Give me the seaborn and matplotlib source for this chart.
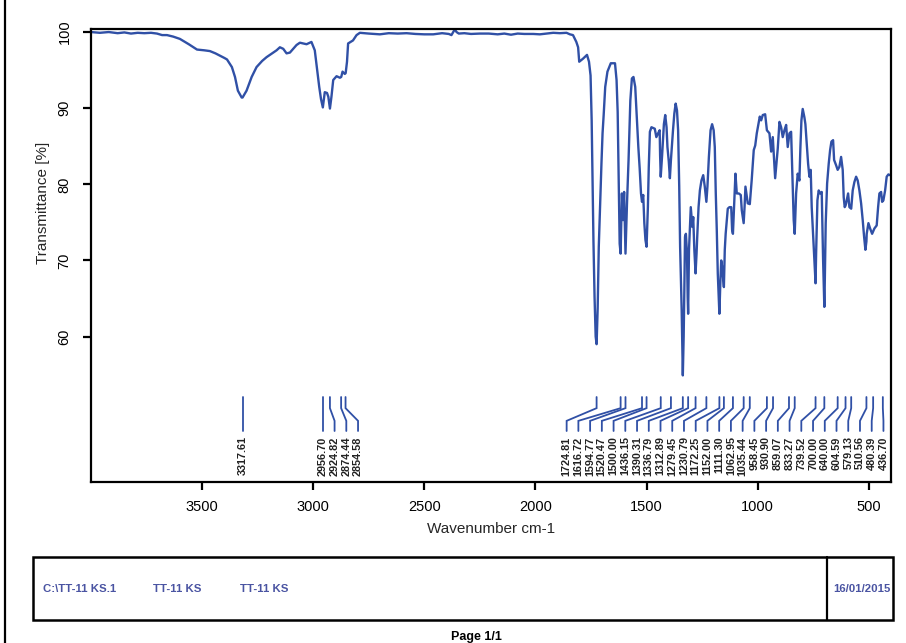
import numpy as np
import pandas as pd
import matplotlib
matplotlib.use("Agg")
import matplotlib.pyplot as plt
from matplotlib.lines import Line2D
from matplotlib.patches import Rectangle
import seaborn as sns

# ---------------- data: (wavenumber cm-1, transmittance %) ----------------
region_oh_ch = [
    (4000, 100.0), (3960, 99.9), (3920, 100.0), (3880, 99.85), (3850, 99.95),
    (3820, 99.8), (3790, 99.9), (3760, 99.85), (3730, 99.9), (3703, 99.8),
    (3680, 99.6), (3658, 99.6), (3630, 99.4), (3600, 99.1), (3560, 98.4),
    (3523, 97.7), (3490, 97.6), (3465, 97.5), (3440, 97.2), (3420, 96.9),
    (3400, 96.6), (3388, 96.4), (3366, 95.4), (3352, 94.1), (3339, 92.3),
    (3322, 91.4), (3318, 91.4), (3300, 92.3), (3277, 94.1), (3255, 95.4),
    (3230, 96.2), (3210, 96.7), (3185, 97.2), (3165, 97.6), (3150, 98.0),
    (3135, 97.8), (3120, 97.2), (3105, 97.3), (3090, 97.8), (3075, 98.3),
    (3060, 98.6), (3030, 98.4), (3008, 98.7), (2993, 97.6), (2982, 95.0),
    (2973, 92.8), (2965, 91.2), (2956.7, 90.1), (2948, 92.1), (2938, 92.0),
    (2932, 91.5), (2924.8, 89.95), (2918, 91.5), (2910, 93.7), (2895, 94.2),
    (2880, 94.0), (2874, 94.1), (2868, 94.8), (2858, 94.5), (2854, 94.6),
    (2848, 96.1), (2843, 98.5), (2821, 98.9), (2805, 99.6), (2790, 99.9),
]
region_flat = [
    (2750, 99.8), (2700, 99.7), (2660, 99.85), (2620, 99.8), (2580, 99.85),
    (2540, 99.75), (2500, 99.7), (2460, 99.7), (2420, 99.85), (2390, 99.75),
    (2378, 99.6), (2368, 100.1), (2363, 100.35), (2355, 100.0), (2345, 99.8),
    (2320, 99.85), (2290, 99.75), (2250, 99.8), (2210, 99.8), (2170, 99.7),
    (2140, 99.8), (2110, 99.65), (2080, 99.8), (2050, 99.75), (2010, 99.75),
    (1980, 99.7), (1950, 99.8), (1920, 99.9), (1890, 99.85), (1860, 99.9),
    (1845, 99.7),
]
region_carbonyl = [
    (1831, 99.6), (1816, 98.7), (1808, 98.0), (1803, 96.1), (1786, 96.5),
    (1768, 97.0), (1759, 96.1), (1752, 94.3), (1747, 88.4), (1743, 80.5),
    (1739, 72.6), (1734, 65.2), (1729, 60.0), (1724.8, 59.0), (1720, 63.7),
    (1715, 71.8), (1708, 78.3), (1703, 82.7), (1698, 86.7), (1693, 89.1),
    (1686, 92.8), (1676, 94.8), (1661, 95.9), (1642, 95.9), (1635, 93.7),
    (1630, 89.5), (1625, 79.7), (1621, 72.2), (1616.7, 70.9), (1611, 78.8),
    (1606, 75.3), (1601, 79.0), (1594.8, 70.9), (1588, 77.5), (1581, 83.2),
    (1573, 91.0), (1566, 93.9), (1559, 94.1), (1551, 92.8), (1543, 88.4),
    (1537, 84.9), (1531, 82.1), (1525, 78.8), (1520.5, 77.7), (1515, 78.6),
    (1510, 74.9), (1505, 72.7), (1500, 71.8), (1494, 77.0), (1490, 82.3),
    (1485, 86.9), (1478, 87.5), (1463, 87.3), (1456, 86.2), (1448, 86.7),
    (1441, 87.1), (1439, 83.8), (1436.2, 81.0), (1430, 83.8), (1422, 87.9),
    (1416, 89.1), (1410, 87.5), (1406, 84.9),
]
region_fingerprint_a = [
    (1400, 83.0), (1395, 80.8), (1390.3, 83.2), (1381, 87.1), (1375, 89.3),
    (1369, 90.6), (1363, 89.7), (1358, 87.1), (1353, 79.7), (1349, 71.8),
    (1342, 63.5), (1336.8, 54.9), (1333, 60.0), (1330, 66.0), (1327, 73.1),
    (1323, 73.5), (1318, 70.9), (1315, 65.2), (1312.9, 63.0), (1309, 71.4),
    (1301, 77.0), (1294, 74.4), (1290, 75.7), (1285, 71.4), (1279.5, 68.3),
    (1275, 70.9), (1272, 73.1), (1266, 77.0), (1260, 79.2), (1253, 80.5),
    (1245, 81.2), (1238, 79.7), (1230.8, 77.7), (1226, 79.7), (1219.5, 83.6),
    (1212, 87.1), (1205, 87.9), (1198, 87.1), (1193, 84.9), (1188.5, 78.8),
    (1184, 74.0), (1179.5, 68.3), (1172.3, 63.0), (1168, 67.0), (1164, 70.0),
    (1160, 69.2), (1152, 66.5), (1148, 71.4), (1144, 73.5), (1139, 75.3),
    (1134.5, 76.8), (1127, 77.0), (1119, 77.0), (1115, 74.0), (1111.3, 73.5),
]
region_fingerprint_b = [
    (1104.4, 78.3), (1100, 81.4), (1094, 78.8), (1085, 78.8), (1076, 78.6),
    (1071.5, 76.6), (1063, 74.9), (1059, 77.0), (1055, 79.7), (1050, 78.6),
    (1044.6, 77.5), (1035.4, 77.4), (1027, 80.5), (1022, 82.7), (1017.6, 84.5),
    (1011, 85.1), (1004, 86.7), (996.4, 87.9), (990.5, 88.9), (984.3, 88.4),
    (977, 89.1), (966.3, 89.2), (958.5, 87.1), (947, 86.7), (939.3, 84.3),
    (932, 86.2), (927.6, 84.0), (921.3, 80.8), (916.8, 82.3), (909.6, 84.7),
    (902, 88.2), (894.4, 87.5), (887.2, 86.2), (879.5, 87.1), (871.9, 87.8),
    (864.7, 84.9), (857, 86.7), (849.5, 86.9), (842.2, 79.9), (837.8, 75.3),
    (833.3, 73.5), (827, 78.8), (819.8, 81.4), (812.2, 80.5), (807.6, 84.9),
    (803.1, 88.4), (797.3, 89.9), (789.7, 88.8), (785.2, 87.9), (779.3, 85.4),
    (773, 82.7), (767.2, 81.0), (761.3, 81.9), (756.8, 77.0), (752.3, 74.4),
    (746, 70.9), (739.5, 67.0), (737, 70.9), (731.1, 77.9), (725.3, 79.2),
    (719, 78.8), (711.8, 79.0), (705.5, 70.0), (700, 63.9), (698.3, 66.5),
    (693.8, 74.9), (687.5, 80.1), (680.3, 82.7), (674, 84.5), (668.2, 85.6),
    (660.6, 85.8), (656, 83.2), (647, 82.5), (640, 81.9), (632.2, 82.3),
    (624.6, 83.6), (617.3, 81.9), (612.8, 78.3), (608.3, 77.0), (604.6, 77.2),
    (602, 77.5), (593, 78.8), (587.2, 77.0), (579.1, 76.8), (572.3, 79.2),
    (564.7, 80.3), (557, 81.0), (549.8, 80.5), (542.2, 79.2), (534.5, 77.5),
    (527.3, 75.3), (521, 73.1), (515.2, 71.4), (510.6, 72.5), (509.3, 73.5),
    (501.6, 74.9), (494, 74.2), (485, 73.5), (480.4, 73.8), (474.7, 74.2),
    (464.4, 74.6), (458, 77.0), (452.2, 78.8), (444.5, 79.0), (440, 77.7),
    (436.7, 77.8), (434.2, 77.9), (426.5, 79.2), (419.4, 81.0), (411.8, 81.3),
    (404, 81.2), (400, 81.2),
]
peak_positions = [
    3317.61, 2956.70, 2924.82, 2874.44, 2854.58,
    1724.81, 1616.72, 1594.77, 1520.47, 1500.00, 1436.15, 1390.31, 1336.79,
    1312.89, 1279.45, 1230.79, 1172.25, 1152.00, 1111.30, 1062.95, 1035.44,
    958.45, 930.90, 859.07, 833.27, 739.52, 700.00, 640.00, 604.59, 579.13,
    510.56, 480.39, 436.70,
]
x_ticks = [3500, 3000, 2500, 2000, 1500, 1000, 500]
y_ticks = [60, 70, 80, 90, 100]
footer_texts = ["C:\\TT-11 KS.1", "TT-11 KS", "TT-11 KS"]
footer_date = "16/01/2015"

spectrum = (region_oh_ch + region_flat + region_carbonyl
            + region_fingerprint_a + region_fingerprint_b)
df = pd.DataFrame(spectrum, columns=["wn", "T"])

# ---------------- style ----------------
W, H = 906, 643
sns.set_theme(style="white")
plt.rcParams["font.family"] = ["Liberation Sans", "DejaVu Sans"]
BLUE = "#3050a6"
TXT_BLUE = "#4a54a2"

fig = plt.figure(figsize=(W / 100, H / 100), dpi=100)
fig.patch.set_facecolor("white")


def fx(px):
    return px / W


def fy(py):
    return 1 - py / H


ax = fig.add_axes([fx(91), fy(482), fx(891) - fx(91), fy(29) - fy(482)])
ax.set_facecolor("white")

sns.lineplot(data=df, x="wn", y="T", ax=ax, color=BLUE, lw=1.7,
             sort=False, estimator=None)

ax.set_xlim(4000, 400)
ax.set_ylim(40.9, 100.4)
ax.set_xticks(x_ticks)
ax.set_yticks(y_ticks)
ax.set_xticklabels([str(v) for v in x_ticks], fontsize=10.5)
ax.set_yticklabels([str(v) for v in y_ticks], fontsize=10.5, rotation=90,
                   va="center")
for s in ax.spines.values():
    s.set_color("black")
    s.set_linewidth(1.6)
ax.tick_params(axis="both", direction="out", length=6, width=1.6,
               color="black", labelcolor="black", left=True, bottom=True)
ax.tick_params(axis="x", pad=7)
ax.tick_params(axis="y", pad=8)
ax.set_xlabel("Wavenumber cm-1", fontsize=11, labelpad=6)
ax.set_ylabel("Transmittance [%]", fontsize=11)
ax.yaxis.set_label_coords(-0.051, 0.616)

# ---------------- peak labels ----------------
spacing = 52.8
right_bound = 434.0
pos = list(peak_positions)
for i in range(1, len(pos)):
    pos[i] = min(pos[i], pos[i - 1] - spacing)
pos[-1] = max(pos[-1], right_bound)
for i in range(len(pos) - 2, -1, -1):
    pos[i] = max(pos[i], pos[i + 1] + spacing)

trans = ax.get_xaxis_transform()
y0, y1, y2, y3, yt = 0.1876, 0.163, 0.135, 0.1126, 0.1005
for pk, lp in zip(peak_positions, pos):
    ax.plot([pk, pk, lp, lp], [y0, y1, y2, y3], transform=trans,
            color=BLUE, lw=1.3, solid_joinstyle="miter")
    ax.text(lp, yt, f"{pk:.2f}", transform=trans, rotation=90,
            ha="center", va="top", fontsize=7.8, fontweight="bold",
            color="#222222")

# ---------------- page frame & footer ----------------
frame_kw = dict(color="black", lw=1.6, transform=fig.transFigure)
fig.add_artist(Line2D([fx(5), fx(5)], [fy(0), fy(643)], **frame_kw))

fig.add_artist(Rectangle((fx(33), fy(620)), fx(893) - fx(33), fy(557) - fy(620),
                         fill=False, ec="black", lw=1.8,
                         transform=fig.transFigure))
fig.add_artist(Line2D([fx(827), fx(827)], [fy(557), fy(620)], **frame_kw))

for txt, px in zip(footer_texts, [43, 153, 240]):
    fig.text(fx(px), fy(589), txt, ha="left", va="center", fontsize=8.2,
             fontweight="bold", color=TXT_BLUE)
fig.text(fx(891), fy(589), footer_date, ha="right", va="center", fontsize=8.2,
         fontweight="bold", color=TXT_BLUE)
fig.text(fx(476), fy(637), "Page 1/1", ha="center", va="center", fontsize=9,
         fontweight="bold", color="black")

fig.savefig("out.png", dpi=100, facecolor="white")
